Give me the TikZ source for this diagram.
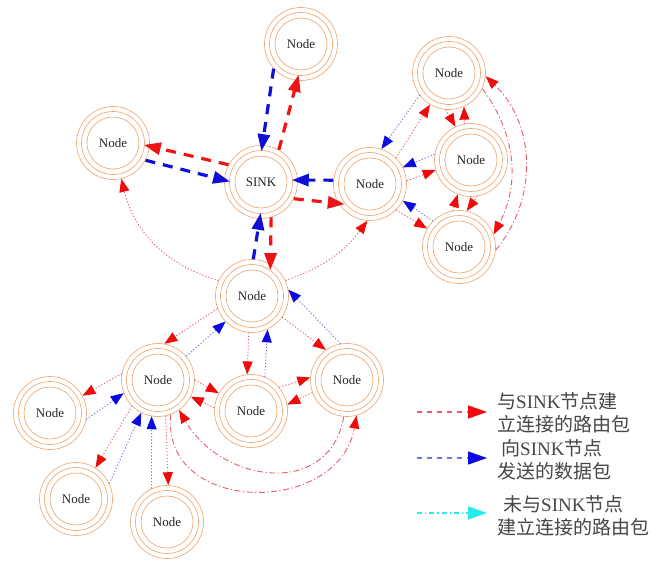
\documentclass[tikz,border=0pt]{standalone}
\usepackage{fontspec}
\setmainfont{Liberation Serif}
\newfontfamily\cjk{Noto Sans CJK SC}
\usetikzlibrary{arrows.meta,calc}

\definecolor{ringc}{RGB}{238,162,105}
\definecolor{dotredc}{RGB}{232,95,105}
\definecolor{dotbluec}{RGB}{115,115,235}
\definecolor{tipredc}{RGB}{240,10,10}
\definecolor{tipbluec}{RGB}{10,10,225}
\definecolor{mainredc}{RGB}{236,20,20}
\definecolor{mainbluec}{RGB}{15,15,215}
\definecolor{legcyanc}{RGB}{40,235,235}
\definecolor{legtextc}{RGB}{70,70,70}

\newcommand\zh[1]{{\cjk #1}}
% a sensor node: three concentric rings with a label
\newcommand\netnode[3]{%
  \node[netnode] (#1) at (#2) {#3};
  \draw[ringline] (#1.center) circle[radius=31.5pt] circle[radius=26pt];}

\begin{document}
\begin{tikzpicture}[x=1pt,y=-1pt,
  netnode/.style={circle,minimum size=73pt,inner sep=0pt,draw=ringc,line width=0.6pt,
    font=\fontsize{13}{13}\selectfont,text=black!85},
  ringline/.style={draw=ringc,line width=0.6pt},
  mainred/.style={draw=mainredc,line width=3.2pt,dash pattern=on 10pt off 8pt,
    -{Triangle[length=17pt,width=12pt]},shorten >=-6pt},
  mainblue/.style={mainred,draw=mainbluec},
  dotred/.style={draw=dotredc,line width=0.9pt,dash pattern=on 1.2pt off 2pt,
    -{Triangle[length=13pt,width=10pt,color=tipredc]}},
  dotblue/.style={draw=dotbluec,line width=0.9pt,dash pattern=on 1.2pt off 2pt,
    -{Triangle[length=13pt,width=10pt,color=tipbluec]}},
  arcred/.style={draw=dotredc,line width=0.9pt,dash pattern=on 6pt off 2.5pt on 1.2pt off 2.5pt,
    -{Triangle[length=13pt,width=10pt,color=tipredc]}},
  legline/.style={line width=1.3pt},
  legtext/.style={anchor=west,inner sep=0pt,align=left,text=legtextc,
    font=\fontsize{19}{23}\selectfont}
]
\fill[white] (0,0) rectangle (661,563);
\useasboundingbox (0,0) rectangle (661,563);

% nodes
\netnode{T}{301,44}{Node}
\netnode{L}{113,143}{Node}
\netnode{S}{261,182}{SINK}
\netnode{R}{370,184}{Node}
\netnode{FT}{449,73}{Node}
\netnode{FM}{471,160}{Node}
\netnode{FB}{459,247}{Node}
\netnode{C}{252,296}{Node}
\netnode{LL}{158,380}{Node}
\netnode{LC}{251,411}{Node}
\netnode{LR}{347,380}{Node}
\netnode{FL}{50,413}{Node}
\netnode{BL}{76,499}{Node}
\netnode{B}{167,522}{Node}

% links to and from the sink
\draw[mainblue] (T.222) -- (S.88);
\draw[mainred]  (S.61) -- (T.264);
\draw[mainred]  (S.152) -- (L.-5);
\draw[mainblue] (L.-28) -- (S.177);
\draw[mainblue] (R.174) -- (S.3);
\draw[mainred]  (S.-27) -- (R.212);
\draw[mainblue] (C.88) -- (S.268);
\draw[mainred]  (S.-74) -- (C.60);

% upper links
\draw[dotred] (C.155) to[bend left=30] (L.-77);
\draw[dotred] (C.25) to[bend right=17] (R.266);

% right cluster
\draw[dotblue] (FT.217) -- (R.72);
\draw[dotred]  (R.45) -- (FT.239);
\draw[dotblue] (FM.171) -- (R.27);
\draw[dotred]  (R.5) -- (FM.196);
\draw[dotblue] (FB.135) -- (R.-27);
\draw[dotred]  (R.-45) -- (FB.150);
\draw[dotred]  (FT.265) -- (FM.115);
\draw[dotred]  (FM.100) -- (FT.-66);
\draw[dotred]  (FB.100) -- (FM.249);
\draw[dotred]  (FM.280) -- (FB.78);
\draw[arcred]  (FT.-25) to[bend left=32] (FB.20);
\draw[arcred]  (FB.-5) to[bend right=43] (FT.-5);

% lower cluster
\draw[dotblue] (LR.100) -- (C.10);
\draw[dotred]  (C.-35) -- (LR.125);
\draw[dotblue] (LC.68) -- (C.-65);
\draw[dotred]  (C.-95) -- (LC.96);
\draw[dotblue] (LL.40) -- (C.224);
\draw[dotred]  (C.200) -- (LL.80);
\draw[dotblue] (FL.-10) -- (LL.201);
\draw[dotred]  (LL.170) -- (FL.28);
\draw[dotblue] (BL.25) -- (LL.243);
\draw[dotred]  (LL.225) -- (BL.58);
\draw[dotblue] (B.115) -- (LL.-100);
\draw[dotred]  (LL.-78) -- (B.88);
\draw[dotred]  (LL.0) -- (LC.151);
\draw[dotred]  (LC.175) -- (LL.-27);
\draw[dotred]  (LR.200) -- (LC.10);
\draw[dotred]  (LC.40) -- (LR.176);
\draw[arcred]  (LR.-95) to[out=-100,in=-60,looseness=1.3] (LL.-55);
\draw[arcred]  (LL.-70) to[out=-95,in=-100,looseness=1.4] (LR.-75);

% legend
\coordinate (k1a) at (417,412); \coordinate (k1b) at (487,412);
\coordinate (k2a) at (417,458); \coordinate (k2b) at (487,458);
\coordinate (k3a) at (417,513); \coordinate (k3b) at (487,513);
\draw[legline,draw=dotredc,dash pattern=on 5pt off 5pt,
  -{Triangle[length=19pt,width=13pt,color=tipredc]}] (k1a) -- (k1b);
\draw[legline,draw=dotbluec,dash pattern=on 5pt off 5pt,
  -{Triangle[length=19pt,width=13pt,color=tipbluec]}] (k2a) -- (k2b);
\draw[legline,draw=legcyanc,dash pattern=on 5pt off 3pt on 1.3pt off 3pt,
  -{Triangle[length=19pt,width=13pt,color=legcyanc]}] (k3a) -- (k3b);
\node[legtext] (t1) at (497,413) {\zh{与}SINK\zh{节点建}\\\zh{立连接的路由包}};
\node[legtext] (t2) at (497,460) {\hspace{4pt}\zh{向}SINK\zh{节点}\\\zh{发送的数据包}};
\node[legtext] (t3) at (497,515.5) {\hspace{6pt}\zh{未与}SINK\zh{节点}\\\zh{建立连接的路由包}};
\end{tikzpicture}
\end{document}
